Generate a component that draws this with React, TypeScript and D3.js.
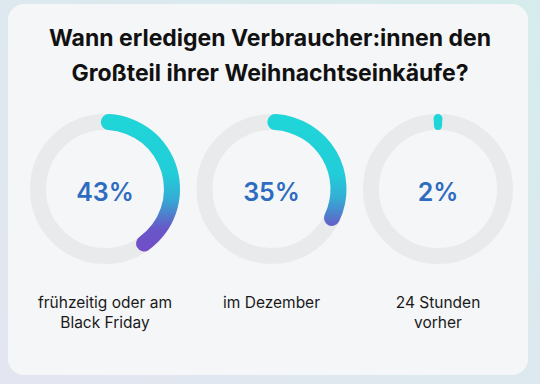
import React from "react";
import * as d3 from "d3";

const titleLines = ["Wann erledigen Verbraucher:innen den", "Großteil ihrer Weihnachtseinkäufe?"];
const categories = ["frühzeitig oder am|Black Friday", "im Dezember", "24 Stunden|vorher"];
const shares = [43, 35, 2];

const W = 540;
const H = 384;

const App = () => {
  const x = d3.scalePoint<string>().domain(categories).range([105, 438]);
  const angle = d3.scaleLinear().domain([0, 100]).range([0, 2 * Math.PI]);
  const cy = 189;
  const outer = 75;
  const inner = 59;
  const offset = (-3.6 * Math.PI) / 180;

  const ring = d3.arc<any>().innerRadius(inner).outerRadius(outer).cornerRadius(8);

  return (
    <svg width={W} height={H} style={{ position: "fixed", left: 0, top: 0 }}>
      <defs>
        <linearGradient id="bg" x1="0" y1="1" x2="1" y2="0">
          <stop offset="0%" stopColor="#e3e5f0" />
          <stop offset="100%" stopColor="#d6ecec" />
        </linearGradient>
        <linearGradient id="arcGrad" gradientUnits="userSpaceOnUse" x1="0" x2="0" y1={-outer} y2={outer}>
          <stop offset="0%" stopColor="#1fd6d8" />
          <stop offset="40%" stopColor="#22cdd8" />
          <stop offset="56%" stopColor="#33aed5" />
          <stop offset="76%" stopColor="#6758c8" />
          <stop offset="100%" stopColor="#7b46c6" />
        </linearGradient>
      </defs>
      <rect width={W} height={H} fill="url(#bg)" />
      <rect x={8} y={4} width={520} height={371} rx={16} fill="#f5f6f8" />

      <g fontFamily="Inter, 'Noto Sans', sans-serif" textAnchor="middle" fill="#111">
        {titleLines.map((t, i) => (
          <text key={i} x={270} y={46 + i * 35} fontSize={23} fontWeight={700}>
            {t}
          </text>
        ))}
      </g>

      {categories.map((c, i) => {
        const cx = x(c)!;
        return (
          <g key={c} transform={`translate(${cx},${cy})`}>
            <circle r={(inner + outer) / 2} fill="none" stroke="#e9eaec" strokeWidth={outer - inner} />
            <path
              d={ring({ startAngle: offset, endAngle: offset + angle(shares[i]) }) || ""}
              fill="url(#arcGrad)"
            />
            <text
              y={3}
              dominantBaseline="central"
              textAnchor="middle"
              fontFamily="Inter, 'Noto Sans', sans-serif"
              fontSize={25}
              fontWeight={600}
              fill="#2d6cc0"
            >
              {shares[i]}%
            </text>
            {c.split("|").map((l, j) => (
              <text
                key={j}
                y={308 - cy + j * 20}
                textAnchor="middle"
                fontFamily="Inter, 'Noto Sans', sans-serif"
                fontSize={15.5}
                fill="#1a1a1a"
              >
                {l}
              </text>
            ))}
          </g>
        );
      })}
    </svg>
  );
};

export default App;
